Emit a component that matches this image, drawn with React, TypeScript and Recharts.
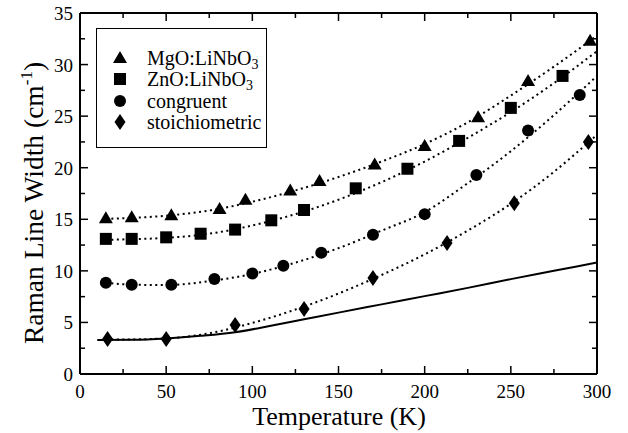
import React from "react";
import {
  ComposedChart,
  Line,
  Scatter,
  XAxis,
  YAxis,
  Legend,
} from "recharts";

// measured line widths (cm^-1) against temperature (K)
const mgoT = [15, 30, 53, 81, 96, 122, 139, 171, 200, 231, 260, 296];
const mgoW = [15.1, 15.2, 15.4, 16.0, 16.9, 17.8, 18.7, 20.3, 22.1, 24.9, 28.4, 32.3];
const znoT = [15, 30, 50, 70, 90, 111, 130, 160, 190, 220, 250, 280];
const znoW = [13.1, 13.1, 13.25, 13.6, 14.0, 14.9, 15.9, 18.0, 19.9, 22.6, 25.8, 28.9];
const congT = [15, 30, 53, 78, 100, 118, 140, 170, 200, 230, 260, 290];
const congW = [8.85, 8.65, 8.65, 9.2, 9.75, 10.5, 11.75, 13.5, 15.5, 19.3, 23.6, 27.05];
const stoiT = [16, 50, 90, 130, 170, 213, 252, 295];
const stoiW = [3.4, 3.4, 4.75, 6.3, 9.3, 12.7, 16.55, 22.5];

// fitted curves (dotted)
const fitT = [15, 25, 50, 75, 100, 125, 150, 175, 200, 225, 250, 275, 300];
const mgoFit = [15.05, 15.1, 15.35, 15.85, 16.7, 17.8, 19.1, 20.6, 22.3, 24.4, 27.0, 29.8, 32.8];
const znoFit = [13.0, 13.05, 13.2, 13.6, 14.4, 15.5, 16.9, 18.6, 20.6, 22.9, 25.4, 28.2, 31.3];
const congFit = [8.85, 8.7, 8.62, 9.0, 9.7, 10.8, 12.2, 13.9, 15.7, 18.5, 21.6, 25.1, 28.9];
const stoiFit = [3.35, 3.35, 3.45, 3.95, 4.95, 6.25, 7.8, 9.6, 11.6, 13.9, 16.5, 19.6, 23.2];

// anharmonic decay curve (solid)
const decayT = [10, 30, 50, 70, 90, 110, 130, 150, 175, 200, 225, 250, 275, 300];
const decayW = [3.3, 3.32, 3.45, 3.7, 4.05, 4.65, 5.3, 5.95, 6.75, 7.55, 8.35, 9.2, 10.0, 10.8];

const xTicks = [0, 25, 50, 75, 100, 125, 150, 175, 200, 225, 250, 275, 300];
const yTicks = [0, 2.5, 5, 7.5, 10, 12.5, 15, 17.5, 20, 22.5, 25, 27.5, 30, 32.5, 35];

const seriesNames = ["MgO:LiNbO3", "ZnO:LiNbO3", "congruent", "stoichiometric"];

const toPts = (t: number[], w: number[]) => t.map((v, i) => ({ t: v, w: w[i] }));

const FONT = "Liberation Serif";
const INK = "#000";

// marker shapes
const Tri = ({ cx, cy }: any) => (
  <polygon points={`${cx},${cy - 7} ${cx + 7},${cy + 5} ${cx - 7},${cy + 5}`} fill={INK} />
);
const Sq = ({ cx, cy }: any) => <rect x={cx - 6} y={cy - 6} width={12} height={12} fill={INK} />;
const Circ = ({ cx, cy }: any) => <circle cx={cx} cy={cy} r={6} fill={INK} />;
const Dia = ({ cx, cy }: any) => (
  <polygon points={`${cx},${cy - 8} ${cx + 5.5},${cy} ${cx},${cy + 8} ${cx - 5.5},${cy}`} fill={INK} />
);
const shapes = [Tri, Sq, Circ, Dia];

const isMajor = (v: number) => Math.abs(v % 5) < 1e-6;

// ticks point into the plot; labels only on major ticks
const BottomTick = ({ x, y, payload }: any) => {
  const major = payload.value % 50 === 0;
  return (
    <g>
      <line x1={x} x2={x} y1={y} y2={y - (major ? 8 : 5)} stroke={INK} strokeWidth={1.5} />
      {major && (
        <text x={x} y={y + 24} textAnchor="middle" fontFamily={FONT} fontSize={19} fill={INK}>
          {payload.value}
        </text>
      )}
    </g>
  );
};
const TopTick = ({ x, y, payload }: any) => {
  const major = payload.value % 50 === 0;
  return <line x1={x} x2={x} y1={y} y2={y + (major ? 8 : 5)} stroke={INK} strokeWidth={1.5} />;
};
const LeftTick = ({ x, y, payload }: any) => {
  const major = isMajor(payload.value);
  return (
    <g>
      <line x1={x} x2={x + (major ? 8 : 5)} y1={y} y2={y} stroke={INK} strokeWidth={1.5} />
      {major && (
        <text x={x - 7} y={y + 7} textAnchor="end" fontFamily={FONT} fontSize={19} fill={INK}>
          {payload.value}
        </text>
      )}
    </g>
  );
};
const RightTick = ({ x, y, payload }: any) => {
  const major = isMajor(payload.value);
  return <line x1={x} x2={x - (major ? 8 : 5)} y1={y} y2={y} stroke={INK} strokeWidth={1.5} />;
};

const withSub = (name: string) =>
  name.endsWith("O3") ? (
    <>
      {name.slice(0, -1)}
      <sub style={{ fontSize: 14, verticalAlign: "-4px", lineHeight: 0 }}>3</sub>
    </>
  ) : (
    name
  );

const LegendBox = () => (
  <div
    style={{
      boxSizing: "border-box",
      width: 171,
      height: 120,
      border: `1.5px solid ${INK}`,
      background: "#fff",
      paddingTop: 18,
      fontFamily: FONT,
      fontSize: 20,
      color: INK,
    }}
  >
    {seriesNames.map((name, i) => {
      const Shape = shapes[i];
      return (
        <div key={name} style={{ display: "flex", alignItems: "center", height: 21.5 }}>
          <svg width={20} height={20} style={{ marginLeft: 13, flex: "none" }}>
            <Shape cx={10} cy={10} />
          </svg>
          <span style={{ marginLeft: 17, lineHeight: "20px" }}>{withSub(name)}</span>
        </div>
      );
    })}
  </div>
);

const series = [
  { pts: toPts(mgoT, mgoW), fit: toPts(fitT, mgoFit) },
  { pts: toPts(znoT, znoW), fit: toPts(fitT, znoFit) },
  { pts: toPts(congT, congW), fit: toPts(fitT, congFit) },
  { pts: toPts(stoiT, stoiW), fit: toPts(fitT, stoiFit) },
];

const axisLine = { stroke: INK, strokeWidth: 2 };

export default function App() {
  return (
    <div style={{ position: "absolute", left: 0, top: 0, width: 628, height: 433, background: "#fff" }}>
      <ComposedChart width={628} height={433} margin={{ top: 12, right: 30, bottom: 58, left: 79 }}>
        <XAxis
          xAxisId="b"
          dataKey="t"
          type="number"
          domain={[0, 300]}
          ticks={xTicks}
          interval={0}
          height={1}
          tickSize={0}
          tickMargin={0}
          tick={BottomTick}
          tickLine={false}
          axisLine={axisLine}
          allowDataOverflow
          label={() => (
            <text x={339} y={425} textAnchor="middle" fontFamily={FONT} fontSize={26} fill={INK}>
              Temperature (K)
            </text>
          )}
        />
        <XAxis
          xAxisId="t"
          orientation="top"
          dataKey="t"
          type="number"
          domain={[0, 300]}
          ticks={xTicks}
          interval={0}
          height={1}
          tickSize={0}
          tickMargin={0}
          tick={TopTick}
          tickLine={false}
          axisLine={axisLine}
          allowDataOverflow
        />
        <YAxis
          yAxisId="l"
          type="number"
          domain={[0, 35]}
          ticks={yTicks}
          interval={0}
          width={1}
          tickSize={0}
          tickMargin={0}
          tick={LeftTick}
          tickLine={false}
          axisLine={axisLine}
          allowDataOverflow
          label={() => (
            <text
              transform="translate(43,203) rotate(-90)"
              textAnchor="middle"
              fontFamily={FONT}
              fontSize={27.5}
              fill={INK}
            >
              Raman Line Width (cm
              <tspan dy={-11} fontSize={17}>-1</tspan>
              <tspan dy={11}>)</tspan>
            </text>
          )}
        />
        <YAxis
          yAxisId="r"
          orientation="right"
          type="number"
          domain={[0, 35]}
          ticks={yTicks}
          interval={0}
          width={1}
          tickSize={0}
          tickMargin={0}
          tick={RightTick}
          tickLine={false}
          axisLine={axisLine}
          allowDataOverflow
        />

        {/* invisible series keeps the top/right frame axes active */}
        <Line
          xAxisId="t"
          yAxisId="r"
          data={toPts(decayT, decayW)}
          dataKey="w"
          stroke="none"
          dot={false}
          legendType="none"
          isAnimationActive={false}
        />
        <Line
          xAxisId="b"
          yAxisId="l"
          data={toPts(decayT, decayW)}
          dataKey="w"
          type="monotone"
          stroke={INK}
          strokeWidth={2}
          dot={false}
          isAnimationActive={false}
        />
        {series.map((s, i) => (
          <Line
            key={`fit-${i}`}
            xAxisId="b"
            yAxisId="l"
            data={s.fit}
            dataKey="w"
            type="monotone"
            stroke={INK}
            strokeWidth={2}
            strokeDasharray="2 3.5"
            dot={false}
            isAnimationActive={false}
          />
        ))}
        {series.map((s, i) => {
          const Shape = shapes[i];
          return (
            <Scatter
              key={`pts-${i}`}
              name={seriesNames[i]}
              xAxisId="b"
              yAxisId="l"
              data={s.pts}
              dataKey="w"
              shape={(p: any) => <Shape cx={p.cx} cy={p.cy} />}
              isAnimationActive={false}
            />
          );
        })}

        <Legend
          layout="horizontal"
          verticalAlign="middle"
          align="center"
          content={() => <LegendBox />}
          wrapperStyle={{ left: 96, top: 28, width: 171, height: 120 }}
        />
      </ComposedChart>
    </div>
  );
}
